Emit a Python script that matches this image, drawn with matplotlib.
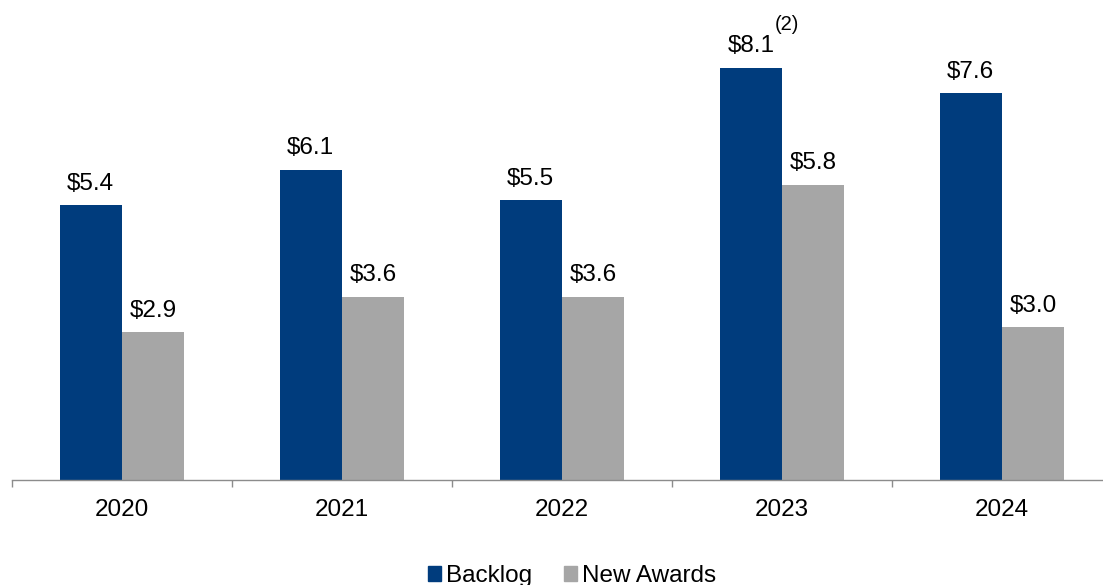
import matplotlib
matplotlib.use('Agg')
import matplotlib.pyplot as plt
import numpy as np
from matplotlib.patches import Patch

plt.rcParams['font.family'] = ['Liberation Sans', 'DejaVu Sans']

years = ['2020', '2021', '2022', '2023', '2024']
backlog = [5.4, 6.1, 5.5, 8.1, 7.6]
new_awards = [2.9, 3.6, 3.6, 5.8, 3.0]
navy = '#003C7D'
gray = '#A6A6A6'


def main():
    fig = plt.figure(figsize=(11.03, 5.85), dpi=100)
    ax = fig.add_axes([12 / 1103, 105 / 585, 1100 / 1103, 480 / 585])

    x = np.arange(len(years))
    w = 0.284
    b1 = ax.bar(x - w / 2, backlog, w, color=navy)
    b2 = ax.bar(x + w / 2, new_awards, w, color=gray)

    for bars, vals in ((b1, backlog), (b2, new_awards)):
        for rect, v in zip(bars, vals):
            ax.annotate(f'${v:.1f}', (rect.get_x() + rect.get_width() / 2, rect.get_height()),
                        xytext=(0, 11), textcoords='offset points',
                        ha='center', va='baseline', fontsize=17.5)

    # footnote marker on the 2023 backlog label
    ax.annotate('(2)', (x[3] - w / 2, backlog[3]), xytext=(17, 27), textcoords='offset points',
                ha='left', va='baseline', fontsize=14.5)

    ax.set_xlim(-0.5, len(years) - 0.5)
    ax.set_ylim(0, 9.43)
    ax.set_xticks(x)
    ax.set_xticklabels(years, fontsize=17.5)
    ax.set_xticks(np.arange(-0.5, len(years)), minor=True)
    ax.tick_params(axis='x', which='major', length=0, pad=14)
    ax.tick_params(axis='x', which='minor', length=5, width=1, color='#8C8C8C', direction='out')
    ax.set_yticks([])
    for s in ('top', 'right', 'left'):
        ax.spines[s].set_visible(False)
    ax.spines['bottom'].set_color('#8C8C8C')
    ax.spines['bottom'].set_linewidth(1)

    handles = [Patch(color=navy, label='Backlog'), Patch(color=gray, label='New Awards')]
    fig.legend(handles=handles, loc='center', bbox_to_anchor=(572 / 1103, 9 / 585),
               ncol=2, frameon=False, fontsize=17.5, handlelength=0.55, handleheight=0.55,
               handletextpad=0.2, columnspacing=1.3, borderpad=0)

    plt.savefig('out.png', dpi=100)
    plt.close()


if __name__ == '__main__':
    main()
